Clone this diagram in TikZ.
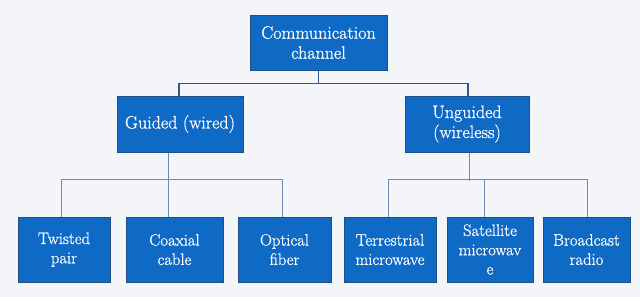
\documentclass[tikz,border=0pt]{standalone}
\usepackage{fontspec}
\newfontfamily\boxfont{Latin Modern Roman}[FakeBold=0.7]
\definecolor{bgc}{HTML}{F3F5F8}
\definecolor{boxfill}{HTML}{0E6AC4}
\definecolor{boxline}{HTML}{1D4F86}
\definecolor{topline}{HTML}{2C5A8C}
\definecolor{lowline}{HTML}{6A8BB3}
\begin{document}
\begin{tikzpicture}[x=1pt,y=-1pt,
  box/.style={draw=boxline,line width=1pt,fill=boxfill,text=white,align=center,inner sep=0pt,minimum height=65pt},
  bigbox/.style={box,font=\boxfont\fontsize{18}{20}\selectfont},
  smallbox/.style={box,font=\boxfont\fontsize{16.6}{19.3}\selectfont},
  upconn/.style={draw=topline,line width=1.3pt},
  lowconn/.style={draw=lowline,line width=0.9pt}]
\fill[bgc] (0,0) rectangle (640,297);
\useasboundingbox (0,0) rectangle (640,297);
\node[bigbox,minimum width=137pt,minimum height=55pt] (root) at (318.5,42.5) {Communication\\channel};
\node[bigbox,minimum width=126pt,minimum height=56pt] (guided) at (180,124) {Guided (wired)};
\node[bigbox,minimum width=124pt,minimum height=56pt] (unguided) at (467,124) {Unguided\\(wireless)};
\node[smallbox,minimum width=92pt] (twisted) at (64,249.5) {Twisted\\pair};
\node[smallbox,minimum width=97pt] (coaxial) at (174.5,249.5) {Coaxial\\cable};
\node[smallbox,minimum width=93pt] (optical) at (284.5,249.5) {Optical\\fiber};
\node[smallbox,minimum width=92pt] (terrestrial) at (390,249.5) {Terrestrial\\microwave};
\node[smallbox,minimum width=86pt] (satellite) at (490,249.5) {Satellite\\microwav\\e};
\node[smallbox,minimum width=87pt] (broadcast) at (586.5,249.5) {Broadcast\\radio};
% upper level
\draw[upconn] (root.south) -- ++(0,12.5);
\draw[upconn] ([xshift=-1pt]guided.north) -- ++(0,-12) -| ([xshift=1pt]unguided.north);
% guided branch
\draw[lowconn] ([xshift=-12pt]guided.south) -- ([xshift=-6.5pt]coaxial.north);
\draw[lowconn] ([xshift=-3pt]twisted.north) -- ++(0,-37) -| ([xshift=-2.5pt]optical.north);
% unguided branch
\draw[lowconn] ([xshift=2pt]unguided.south) -- ++(0,28);
\draw[lowconn] ([xshift=-2pt]terrestrial.north) -- ++(0,-37) -| ([xshift=0.5pt]broadcast.north);
\draw[lowconn] ([xshift=-6pt]satellite.north) -- ++(0,-37);
\end{tikzpicture}
\end{document}
